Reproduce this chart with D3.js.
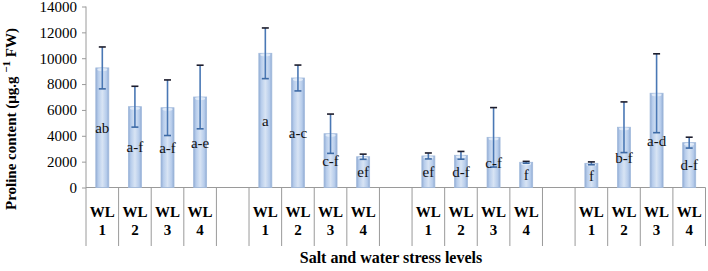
<!DOCTYPE html>
<html><head><meta charset="utf-8">
<script src="https://cdn.jsdelivr.net/npm/d3@7"></script>
<style>body{margin:0;background:#fff}svg{display:block}</style>
</head><body>
<script>
const groups = ["G1","G2","G3","G4"];
const levels = ["WL 1","WL 2","WL 3","WL 4"];
const means = [
  [9250, 6250, 6170, 7000],
  [10380, 8470, 4160, 2380],
  [2440, 2490, 3880, 1950],
  [1870, 4660, 7290, 3470]
];
const errors = [
  [1620, 1580, 2150, 2460],
  [1960, 1000, 1520, 200],
  [230, 300, 2300, 70],
  [110, 1960, 3050, 420]
];
const letters = [
  ["ab","a-f","a-f","a-e"],
  ["a","a-c","c-f","ef"],
  ["ef","d-f","c-f","f"],
  ["f","b-f","a-d","d-f"]
];
const yTicks = [0,2000,4000,6000,8000,10000,12000,14000];

const W=708,H=271;
const svg=d3.select("body").append("svg").attr("width",W).attr("height",H);
const defs=svg.append("defs");
const g=defs.append("linearGradient").attr("id","bar").attr("x1","0").attr("x2","1").attr("y1","0").attr("y2","0");
[[0,"#8faad3"],[0.18,"#b6cceb"],[0.5,"#d8e4f4"],[0.82,"#b6cceb"],[1,"#8faad3"]].forEach(s=>g.append("stop").attr("offset",s[0]).attr("stop-color",s[1]));

const slots=[];
groups.forEach((gr,gi)=>{
  levels.forEach((lv,li)=>slots.push({key:gr+"-"+li,gi,li,label:lv}));
  if(gi<groups.length-1) slots.push({key:"gap"+gi,gap:true});
});
const x=d3.scaleBand().domain(slots.map(s=>s.key)).range([86,705.5]).paddingInner(0).paddingOuter(0);
const y=d3.scaleLinear().domain([0,14000]).range([187.5,6.5]);
const axisColor="#9a9a9a";
const serif="Liberation Serif";

const yAxis=svg.append("g").attr("transform","translate(86,0)")
  .call(d3.axisLeft(y).tickValues(yTicks).tickSize(4).tickPadding(5).tickFormat(d3.format("d")));
yAxis.attr("font-family",serif).attr("font-size",15);
yAxis.select(".domain").remove();
yAxis.selectAll("line").attr("stroke",axisColor);
yAxis.selectAll("text").attr("fill","#000");
svg.append("line").attr("x1",86).attr("x2",86).attr("y1",y(14000)).attr("y2",246).attr("stroke",axisColor);

svg.append("line").attr("x1",86).attr("x2",705.5).attr("y1",y(0)).attr("y2",y(0)).attr("stroke",axisColor);
const bounds=slots.map(s=>x(s.key)).concat([x(slots[slots.length-1].key)+x.bandwidth()]);
svg.selectAll("line.div").data(bounds.slice(1)).join("line").attr("class","div")
  .attr("x1",d=>d).attr("x2",d=>d).attr("y1",y(0)).attr("y2",246).attr("stroke",axisColor);

const data=slots.filter(s=>!s.gap).map(s=>({...s,v:means[s.gi][s.li],e:errors[s.gi][s.li],t:letters[s.gi][s.li]}));
const bw=13;
const cx=d=>x(d.key)+x.bandwidth()/2;

svg.selectAll("rect.bar").data(data).join("rect").attr("class","bar")
  .attr("x",d=>cx(d)-bw/2).attr("width",bw)
  .attr("y",d=>y(d.v)).attr("height",d=>y(0)-y(d.v))
  .attr("fill","url(#bar)").attr("stroke","#a3bbdc").attr("stroke-width",0.8);
svg.selectAll("ellipse.rim").data(data).join("ellipse").attr("class","rim")
  .attr("cx",cx).attr("cy",d=>y(d.v)+1.5).attr("rx",bw/2-1.5).attr("ry",1.5)
  .attr("fill","#e6eef9").attr("opacity",0.85);

const eg=svg.selectAll("g.err").data(data).join("g").attr("class","err");
eg.append("line").attr("x1",cx).attr("x2",cx).attr("y1",d=>y(d.v+d.e)).attr("y2",d=>y(d.v-d.e))
  .attr("stroke","#4a78b5").attr("stroke-width",1.6);
eg.append("line").attr("x1",d=>cx(d)-3.5).attr("x2",d=>cx(d)+3.5).attr("y1",d=>y(d.v+d.e)).attr("y2",d=>y(d.v+d.e))
  .attr("stroke","#1c1c2c").attr("stroke-width",1.6);
eg.append("line").attr("x1",d=>cx(d)-3.5).attr("x2",d=>cx(d)+3.5).attr("y1",d=>y(d.v-d.e)).attr("y2",d=>y(d.v-d.e))
  .attr("stroke","#3d6aa5").attr("stroke-width",1.6);

svg.selectAll("text.let").data(data).join("text").attr("class","let")
  .attr("x",cx).attr("y",d=>y(d.v/2)).attr("dy","0.35em").attr("text-anchor","middle")
  .attr("font-family",serif).attr("font-size",15).attr("fill","#111").text(d=>d.t);

const lg=svg.selectAll("g.wl").data(data).join("g").attr("class","wl")
  .attr("font-family",serif).attr("font-weight","bold").attr("font-size",15).attr("text-anchor","middle");
lg.append("text").attr("x",cx).attr("y",212).attr("dy","0.35em").text(d=>d.label.split(" ")[0]);
lg.append("text").attr("x",cx).attr("y",230).attr("dy","0.35em").text(d=>d.label.split(" ")[1]);

svg.append("text").attr("x",391).attr("y",263).attr("text-anchor","middle")
  .attr("font-family",serif).attr("font-weight","bold").attr("font-size",16).text("Salt and water stress levels");
const yt=svg.append("text").attr("transform","translate(16,119) rotate(-90)").attr("text-anchor","middle")
  .attr("font-family",serif).attr("font-weight","bold").attr("font-size",15);
yt.append("tspan").text("Proline content (μg.g ");
yt.append("tspan").attr("baseline-shift","super").attr("font-size",11).text("−1");
yt.append("tspan").text(" FW)");
</script>
</body></html>
